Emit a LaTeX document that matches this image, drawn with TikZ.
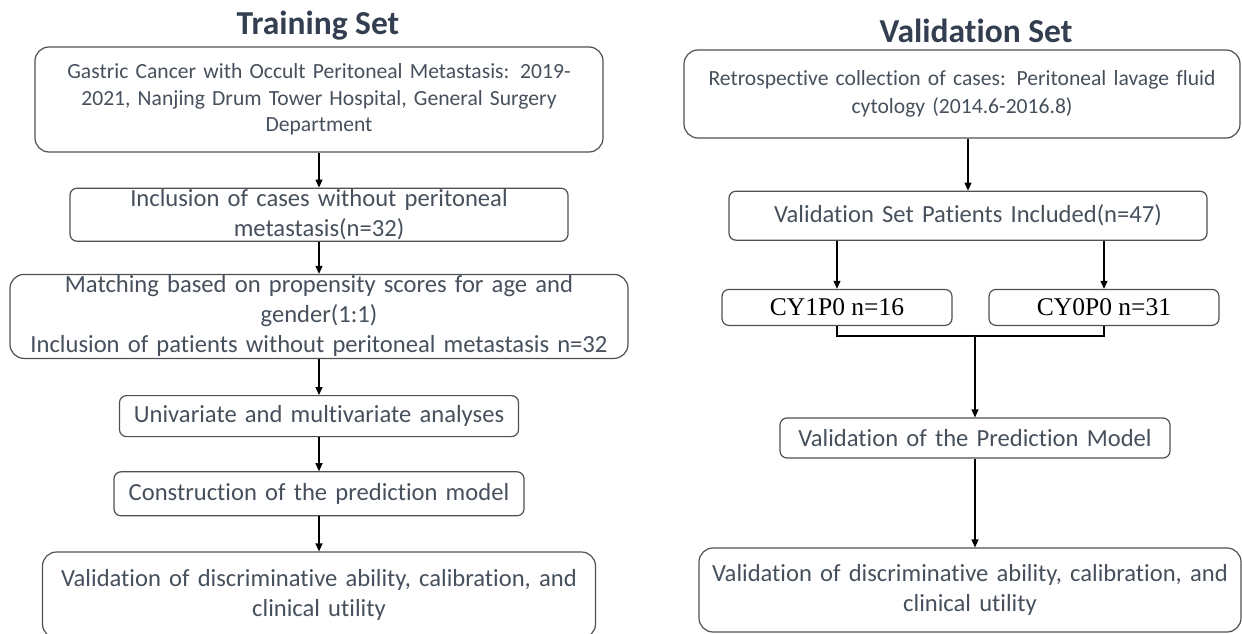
\documentclass[tikz,border=0pt]{standalone}
\usepackage{fontspec}
\setmainfont{Carlito}[Ligatures=NoCommon]
\newfontfamily\timesfont{Liberation Serif}
\usetikzlibrary{arrows.meta,positioning}
\definecolor{bodytext}{HTML}{46505C}
\definecolor{titletext}{HTML}{333F50}
\definecolor{boxline}{HTML}{505050}
\tikzset{
  flowbox/.style={draw=boxline, line width=1.2pt, rounded corners=14pt, align=center,
    inner sep=0pt, text=bodytext, font=\fontsize{24.6}{30}\selectfont},
  smallbox/.style={flowbox, rounded corners=7pt},
  cybox/.style={smallbox, text=black, minimum width=230pt, minimum height=36pt,
    font=\timesfont\fontsize{25.5}{30}\selectfont},
  settitle/.style={text=titletext, font=\bfseries\fontsize{33.5}{38}\selectfont},
}
\begin{document}
\begin{tikzpicture}[x=1pt, y=-1pt, >={Triangle[length=8pt,width=7pt]}, line width=1.2pt]
  \useasboundingbox (0,0) rectangle (1242,634);
  \node[settitle] (ttrain) at (318,26)  {Training Set};
  \node[settitle] (tvalid) at (976,31)  {Validation Set};

  \node[flowbox, text width=568pt, minimum height=105pt, font=\fontsize{21.6}{26.5}\selectfont]
        (src)    at (319,99.5)              {Gastric Cancer with Occult Peritoneal Metastasis: 2019-\\2021, Nanjing Drum Tower Hospital, General Surgery\\Department};
  \node[smallbox, text width=498pt, minimum height=53pt]
        (incl)   [below=35pt of src]        {Inclusion of cases without peritoneal\\metastasis(n=32)};
  \node[flowbox, text width=618pt, minimum height=84pt]
        (match)  [below=32pt of incl]       {Matching based on propensity scores for age and\\gender(1:1)\\Inclusion of patients without peritoneal metastasis n=32};
  \node[smallbox, text width=399pt, minimum height=41pt]
        (uni)    [below=36pt of match]      {Univariate and multivariate analyses};
  \node[smallbox, text width=410pt, minimum height=44pt]
        (model)  [below=34pt of uni]        {Construction of the prediction model};
  \node[flowbox, text width=553pt, minimum height=86pt]
        (valid)  [below=35pt of model]      {Validation of discriminative ability, calibration, and\\clinical utility};

  \node[flowbox, text width=556pt, minimum height=88pt, font=\fontsize{21.6}{28}\selectfont]
        (retro)  at (962,94)                {Retrospective collection of cases: Peritoneal lavage fluid\\cytology (2014.6-2016.8)};
  \node[smallbox, text width=478pt, minimum height=49pt]
        (vset)   [below=52pt of retro, xshift=6pt] {Validation Set Patients Included(n=47)};
  \node[cybox]  (cy1) [below=48pt of vset, xshift=-131pt] {CY1P0 n=16};
  \node[cybox]  (cy0) [below=48pt of vset, xshift=136pt]  {CY0P0 n=31};
  \node[smallbox, text width=390pt, minimum height=40pt]
        (vmodel) at (975,438)               {Validation of the Prediction Model};
  \node[flowbox, text width=542pt, minimum height=84pt]
        (vvalid) at (970,590)               {Validation of discriminative ability, calibration, and\\clinical utility};
  \coordinate (join) at (975,336);

  \draw[->] (src) edge (incl)
            (incl) edge (match)
            (match) edge (uni)
            (uni) edge (model)
            (model) edge (valid);
  \draw[->] (vset.north |- retro.south) -- (vset.north);
  \draw[->] (cy1.north |- vset.south) -- (cy1.north);
  \draw[->] (cy0.north |- vset.south) -- (cy0.north);
  \draw (cy1.south) |- (join) -| (cy0.south);
  \draw[->] (join) -- (vmodel.north);
  \draw[->] (vmodel.south) -- (vmodel.south |- vvalid.north);
\end{tikzpicture}
\end{document}
